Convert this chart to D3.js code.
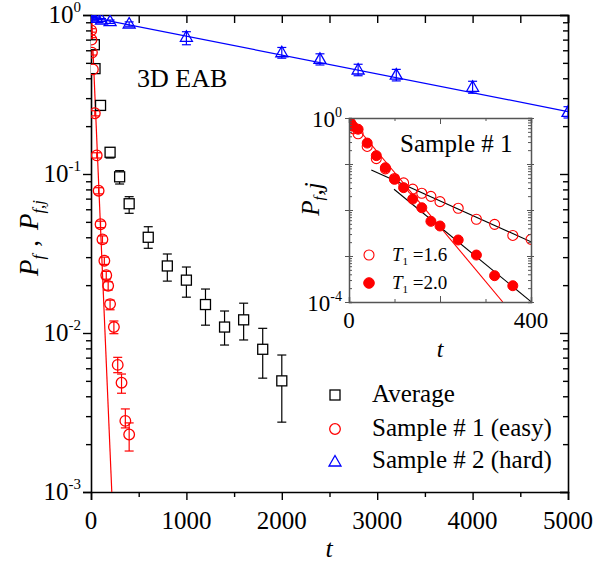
<!DOCTYPE html>
<html><head><meta charset="utf-8">
<script src="https://cdn.jsdelivr.net/npm/d3@7"></script>
<style>
body{margin:0;background:#fff}
svg{display:block}
</style>
</head><body>
<svg id="c" width="595" height="567"></svg>
<script>
// ---------- data (main panel) ----------
const avgT  = [35, 42, 100, 200, 300, 400, 600, 800, 1000, 1200, 1400, 1600, 1800, 2000];
const avgP  = [0.65, 0.46, 0.27, 0.137, 0.096, 0.065, 0.040, 0.0264, 0.0215, 0.0151, 0.0109, 0.0121, 0.0079, 0.0050];
const avgLo = [0.63, 0.445, 0.26, 0.126, 0.0865, 0.0566, 0.0341, 0.0212, 0.0168, 0.0112, 0.0084, 0.00904, 0.0052, 0.00275];
const avgHi = [0.67, 0.475, 0.28, 0.146, 0.105, 0.072, 0.0466, 0.0314, 0.026, 0.0189, 0.01375, 0.0154, 0.0107, 0.00727];

const s1T  = [2, 5, 10, 20, 40, 60, 80, 100, 120, 140, 160, 180, 200, 240, 280, 320, 360, 400];
const s1P  = [0.80, 0.70, 0.58, 0.455, 0.241, 0.131, 0.0785, 0.0483, 0.0388, 0.0285, 0.0231, 0.0198, 0.0152, 0.0109, 0.0063, 0.00487, 0.0028, 0.0023];
const s1Lo = [0.78, 0.68, 0.56, 0.44, 0.232, 0.126, 0.075, 0.046, 0.0368, 0.027, 0.0218, 0.0186, 0.0140, 0.0099, 0.00563, 0.00418, 0.00253, 0.00181];
const s1Hi = [0.82, 0.72, 0.60, 0.47, 0.250, 0.136, 0.082, 0.0505, 0.0408, 0.030, 0.0244, 0.0210, 0.0161, 0.0119, 0.00703, 0.00552, 0.00333, 0.00272];

const s2T  = [5, 20, 60, 110, 200, 400, 1000, 2000, 2400, 2800, 3200, 4000, 5000];
const s2P  = [0.985, 0.97, 0.953, 0.93, 0.908, 0.878, 0.724, 0.579, 0.526, 0.451, 0.419, 0.351, 0.244];
const s2Lo = [0.97, 0.955, 0.935, 0.91, 0.885, 0.85, 0.65, 0.535, 0.485, 0.415, 0.385, 0.322, 0.225];
const s2Hi = [1.0, 0.985, 0.97, 0.95, 0.93, 0.905, 0.785, 0.625, 0.57, 0.49, 0.455, 0.383, 0.265];

const fitEasyT = [5, 218];   const fitEasyP = [1.0, 0.001];
const fitHardT = [0, 5000];  const fitHardP = [0.967, 0.247];

const xTickLabels = ["0", "1000", "2000", "3000", "4000", "5000"];
const yTickExp = ["0", "-1", "-2", "-3"];
const legendLabels = ["Average", "Sample # 1 (easy)", "Sample # 2 (hard)"];

// ---------- data (inset) ----------
const inT16 = s1T;   // T1 = 1.6 (open circles) same as sample #1
const inP16 = s1P;
const inT20 = [4, 9, 20, 40, 60, 80, 100, 120, 140, 160, 180, 200, 240, 280, 320, 360];
const inP20 = [0.77, 0.66, 0.57, 0.285, 0.152, 0.083, 0.0464, 0.0306, 0.0173, 0.0112, 0.00567, 0.00449, 0.00223, 0.00105, 0.000373, 0.000226];
const inFitRedT = [0, 338];   const inFitRedP = [1.0, 0.0001];
const inFit16T  = [49, 400];  const inFit16P  = [0.0741, 0.00204];
const inFit20T  = [99, 400];  const inFit20P  = [0.0282, 0.000102];
const inLegend = ["1.6", "2.0"];

// ---------- drawing ----------
const svg = d3.select("#c");
const RED = "#ff0000", BLUE = "#0000ff";

const x = d3.scaleLinear().domain([0, 5000]).range([91, 568]);
const y = d3.scaleLog().domain([1e-3, 1]).range([492, 15]);

svg.append("clipPath").attr("id", "mc").append("rect")
  .attr("x", 91).attr("y", 15).attr("width", 477).attr("height", 477);

const isMajorLog = v => Math.abs(Math.log10(v) - Math.round(Math.log10(v))) < 1e-9;

// axes
const xt = d3.range(0, 5001, 500);
const gB = svg.append("g").attr("transform", "translate(0,492)")
  .call(d3.axisBottom(x).tickValues(xt).tickSizeOuter(0).tickSize(8).tickFormat(() => ""));
gB.selectAll(".tick line").attr("y2", d => d % 1000 === 0 ? 8 : 5);
const gT = svg.append("g").attr("transform", "translate(0,15)")
  .call(d3.axisTop(x).tickValues(xt).tickSizeOuter(0).tickSize(-8).tickFormat(() => ""));
const yt = y.ticks();
const gL = svg.append("g").attr("transform", "translate(91,0)")
  .call(d3.axisLeft(y).tickValues(yt).tickSizeOuter(0).tickSize(8).tickFormat(() => ""));
gL.selectAll(".tick line").attr("x2", d => isMajorLog(d) ? -8 : -5);
const gR = svg.append("g").attr("transform", "translate(568,0)")
  .call(d3.axisRight(y).tickValues(yt).tickSizeOuter(0).tickSize(-8).tickFormat(() => ""));
gR.selectAll(".tick line").attr("x2", d => isMajorLog(d) ? -8 : -5);
[gB, gT, gL, gR].forEach(g => {
  g.select(".domain").attr("stroke", "#000").attr("stroke-width", 1.6);
  g.selectAll(".tick line").attr("stroke", "#000").attr("stroke-width", 1.4);
});

// x tick labels
xTickLabels.forEach(s => {
  svg.append("text").attr("x", x(+s)).attr("y", 529).attr("text-anchor", "middle")
    .attr("font-size", 25).text(s);
});
// y tick labels
yTickExp.forEach(e => {
  const t = svg.append("text").attr("x", 81).attr("y", y(Math.pow(10, +e)) + 8)
    .attr("text-anchor", "end").attr("font-size", 25);
  t.append("tspan").text("10");
  t.append("tspan").attr("dy", -11).attr("font-size", 15).text(e.replace("-", "\u2011"));
});

// axis labels
svg.append("text").attr("x", 329).attr("y", 557).attr("text-anchor", "middle")
  .attr("font-size", 26).attr("font-style", "italic").text("t");
const yl = svg.append("text").attr("transform", "translate(38,238) rotate(-90)")
  .attr("text-anchor", "middle").attr("font-size", 27);
yl.append("tspan").attr("font-style", "italic").text("P");
yl.append("tspan").attr("font-style", "italic").attr("font-size", 17).attr("dy", 6).text("f");
yl.append("tspan").attr("dy", -6).attr("dx", 8).text(",");
yl.append("tspan").attr("dx", 10).attr("font-style", "italic").text("P");
yl.append("tspan").attr("font-style", "italic").attr("font-size", 17).attr("dy", 6).text("f,j");

svg.append("text").attr("x", 137).attr("y", 87).attr("font-size", 26).text("3D EAB");

// plot content
const pc = svg.append("g").attr("clip-path", "url(#mc)");
const line = d3.line().x(d => x(d.t)).y(d => y(d.p));
const zipF = (T, P) => T.map((t, i) => ({t, p: P[i]}));

pc.append("path").datum(zipF(fitEasyT, fitEasyP)).attr("d", line)
  .attr("fill", "none").attr("stroke", RED).attr("stroke-width", 1.2);
pc.append("path").datum(zipF(fitHardT, fitHardP)).attr("d", line)
  .attr("fill", "none").attr("stroke", BLUE).attr("stroke-width", 1.2);

function errBars(g, T, Lo, Hi, color, cap) {
  T.forEach((t, i) => {
    const xx = x(t), y1 = y(Lo[i]), y2 = y(Hi[i]);
    g.append("line").attr("x1", xx).attr("x2", xx).attr("y1", y1).attr("y2", y2).attr("stroke", color).attr("stroke-width", 1.2);
    [y1, y2].forEach(yy => g.append("line").attr("x1", xx - cap).attr("x2", xx + cap)
      .attr("y1", yy).attr("y2", yy).attr("stroke", color).attr("stroke-width", 1.2));
  });
}
errBars(pc, avgT, avgLo, avgHi, "#000", 4.5);
errBars(pc, s1T, s1Lo, s1Hi, RED, 4.5);
errBars(pc, s2T, s2Lo, s2Hi, BLUE, 4.5);

const triPath = "M0,-6.5L6,4L-6,4Z";
avgT.forEach((t, i) => pc.append("rect").attr("x", x(t) - 5).attr("y", y(avgP[i]) - 5)
  .attr("width", 10).attr("height", 10).attr("fill", "#fff").attr("stroke", "#000").attr("stroke-width", 1.3));
s1T.forEach((t, i) => pc.append("circle").attr("cx", x(t)).attr("cy", y(s1P[i])).attr("r", 5.3)
  .attr("fill", "none").attr("stroke", RED).attr("stroke-width", 1.3));
s2T.forEach((t, i) => pc.append("path").attr("d", triPath)
  .attr("transform", `translate(${x(t)},${y(s2P[i])})`)
  .attr("fill", "none").attr("stroke", BLUE).attr("stroke-width", 1.3));

// legend
const lg = svg.append("g");
const ly = [395, 429, 461];
lg.append("rect").attr("x", 330).attr("y", ly[0] - 5).attr("width", 10).attr("height", 10)
  .attr("fill", "none").attr("stroke", "#000").attr("stroke-width", 1.3);
lg.append("circle").attr("cx", 335).attr("cy", ly[1]).attr("r", 5.3)
  .attr("fill", "none").attr("stroke", RED).attr("stroke-width", 1.3);
lg.append("path").attr("d", triPath).attr("transform", `translate(335,${ly[2] + 1})`)
  .attr("fill", "none").attr("stroke", BLUE).attr("stroke-width", 1.3);
legendLabels.forEach((s, i) => lg.append("text").attr("x", 372).attr("y", ly[i] + 7)
  .attr("font-size", 25).text(s));

// ---------- inset ----------
const ix = d3.scaleLinear().domain([0, 400]).range([349, 531]);
const iy = d3.scaleLog().domain([1e-4, 1]).range([302, 118]);
svg.append("rect").attr("x", 349).attr("y", 118).attr("width", 182).attr("height", 184).attr("fill", "#fff");
svg.append("clipPath").attr("id", "ic").append("rect")
  .attr("x", 349).attr("y", 118).attr("width", 182).attr("height", 184);

const ic = svg.append("g").attr("clip-path", "url(#ic)");
const iline = d3.line().x(d => ix(d.t)).y(d => iy(d.p));
ic.append("path").datum(zipF(inFitRedT, inFitRedP)).attr("d", iline)
  .attr("fill", "none").attr("stroke", RED).attr("stroke-width", 1.1);
ic.append("path").datum(zipF(inFit16T, inFit16P)).attr("d", iline)
  .attr("fill", "none").attr("stroke", "#000").attr("stroke-width", 1.1);
ic.append("path").datum(zipF(inFit20T, inFit20P)).attr("d", iline)
  .attr("fill", "none").attr("stroke", "#000").attr("stroke-width", 1.1);
inT20.forEach((t, i) => ic.append("circle").attr("cx", ix(t)).attr("cy", iy(inP20[i])).attr("r", 5)
  .attr("fill", RED).attr("stroke", RED).attr("stroke-width", 1));
inT16.forEach((t, i) => ic.append("circle").attr("cx", ix(t)).attr("cy", iy(inP16[i])).attr("r", 5)
  .attr("fill", "none").attr("stroke", RED).attr("stroke-width", 1.1));

// inset axes
const IG = "#555";
const ixt = d3.range(0, 401, 100);
const iB = svg.append("g").attr("transform", "translate(0,302)")
  .call(d3.axisBottom(ix).tickValues(ixt).tickSizeOuter(0).tickSize(-5).tickFormat(() => ""));
const iT = svg.append("g").attr("transform", "translate(0,118)")
  .call(d3.axisTop(ix).tickValues(ixt).tickSizeOuter(0).tickSize(-5).tickFormat(() => ""));
[iB, iT].forEach(g => g.selectAll(".tick line").attr("y2", d => (d % 200 === 0 ? 6 : 3) * (g === iB ? -1 : 1)));
const iyt = iy.ticks();
const iL = svg.append("g").attr("transform", "translate(349,0)")
  .call(d3.axisLeft(iy).tickValues(iyt).tickSizeOuter(0).tickSize(-3).tickFormat(() => ""));
iL.selectAll(".tick line").attr("x1", d => isMajorLog(d) ? -4 : 0).attr("x2", d => isMajorLog(d) ? 4 : 3);
const iR = svg.append("g").attr("transform", "translate(531,0)")
  .call(d3.axisRight(iy).tickValues(iyt).tickSizeOuter(0).tickSize(-3).tickFormat(() => ""));
iR.selectAll(".tick line").attr("x1", d => isMajorLog(d) ? 3 : 0).attr("x2", d => isMajorLog(d) ? -4 : -3);
[iB, iT, iL, iR].forEach(g => {
  g.select(".domain").attr("stroke", IG).attr("stroke-width", 1.5);
  g.selectAll(".tick line").attr("stroke", IG).attr("stroke-width", 1);
});

// inset labels
[["0", 0], ["-4", 1e-4]].forEach(([e, v]) => {
  const t = svg.append("text").attr("x", 342).attr("y", iy(v === 0 ? 1 : v) + 9)
    .attr("text-anchor", "end").attr("font-size", 23);
  t.append("tspan").text("10");
  t.append("tspan").attr("dy", -10).attr("font-size", 14).text(e.replace("-", "\u2011"));
});
[0, 400].forEach(v => svg.append("text").attr("x", ix(v)).attr("y", 328)
  .attr("text-anchor", "middle").attr("font-size", 23).text(String(v)));
svg.append("text").attr("x", ix(200)).attr("y", 357).attr("text-anchor", "middle")
  .attr("font-size", 24).attr("font-style", "italic").text("t");
const iyl = svg.append("text").attr("transform", "translate(319,199) rotate(-90)")
  .attr("text-anchor", "middle").attr("font-size", 25);
iyl.append("tspan").attr("font-style", "italic").text("P");
iyl.append("tspan").attr("font-style", "italic").attr("font-size", 15).attr("dy", 5).text("f");
iyl.append("tspan").attr("font-style", "italic").attr("dy", -2).attr("dx", 1).text(",j");

svg.append("text").attr("x", 400).attr("y", 152).attr("font-size", 25).text("Sample # 1");

// inset legend
const ily = [255, 283];
svg.append("circle").attr("cx", 369).attr("cy", ily[0]).attr("r", 5)
  .attr("fill", "none").attr("stroke", RED).attr("stroke-width", 1.1);
svg.append("circle").attr("cx", 369).attr("cy", ily[1]).attr("r", 5.3)
  .attr("fill", RED).attr("stroke", RED);
inLegend.forEach((s, i) => {
  const t = svg.append("text").attr("x", 392).attr("y", ily[i] + 6).attr("font-size", 19);
  t.append("tspan").attr("font-style", "italic").text("T");
  t.append("tspan").attr("font-size", 11).attr("dy", 4).text("1");
  t.append("tspan").attr("dy", -4).text(" =" + s);
});

svg.selectAll("text").style("font-family", '"Liberation Serif"').style("fill", "#000");
</script>
</body></html>
